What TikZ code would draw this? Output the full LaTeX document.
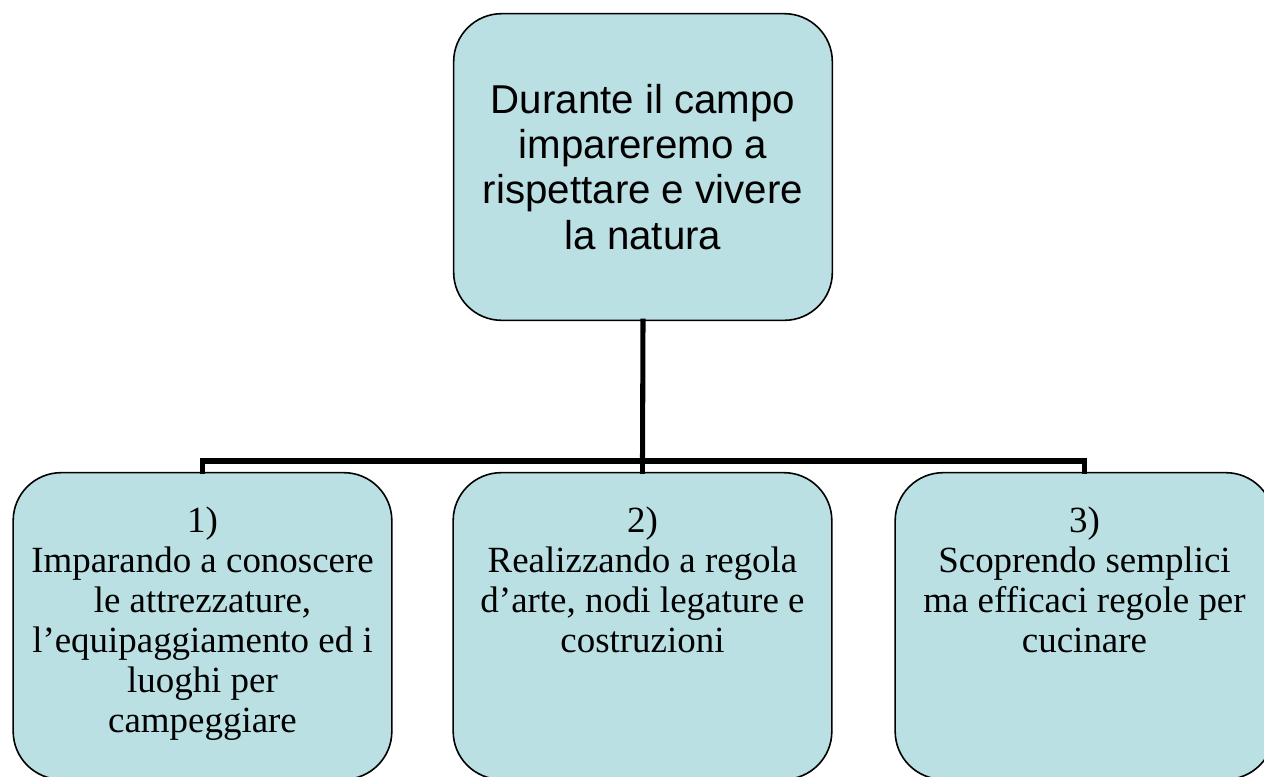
\documentclass[tikz,border=0pt]{standalone}
\usepackage{fontspec}
\setmainfont{Liberation Serif}
\newfontfamily\arialfont{Liberation Sans}
\usetikzlibrary{calc}

\definecolor{boxfill}{RGB}{187,224,227}

\tikzset{every picture/.style={line width=0.75pt}}
\tikzset{
  rbox/.style={draw=black, fill=boxfill, line width=1.2pt, rounded corners=36pt,
    minimum width=284pt, minimum height=230pt, inner sep=0pt},
  leaftext/.style={anchor=north, align=center, inner sep=0pt,
    font=\fontsize{27.7}{30}\selectfont},
  link/.style={line width=3.8pt, line join=miter, line cap=rect}
}

\begin{document}
\begin{tikzpicture}[x=0.75pt,y=0.75pt,yscale=-1,xscale=1]
	\useasboundingbox (0,0) rectangle (1264,776);
	
	%Shape: Rounded Rect [id:top]
	\node [rbox, align=center, font=\arialfont\fontsize{30.2}{33.8}\selectfont] (camp) at (643,167)
	  {Durante il campo\\impareremo a\\rispettare e vivere\\la natura};
	%Shape: Rounded Rect [id:leaf1]
	\node [rbox] (uno) at (202.5,626) {};
	%Shape: Rounded Rect [id:leaf2]
	\node [rbox] (due) at (642.5,626) {};
	%Shape: Rounded Rect [id:leaf3]
	\node [rbox] (tre) at (1084.5,626) {};
	
	%Straight Lines [id:hub]
	\coordinate (hub) at (642.5,461);
	\draw [link] (camp.south) -- (hub);
	\draw [link] (uno.north) |- (hub) -| (tre.north);
	\draw [link] (hub) -- (due.north);
	
	% Text Node
	\node [leaftext] (unotext) at ($(uno.north)+(0,34)$)
	  {1)\\Imparando a conoscere\\le attrezzature,\\l’equipaggiamento ed i\\luoghi per\\campeggiare};
	% Text Node
	\node [leaftext] (duetext) at ($(due.north)+(0,34)$)
	  {2)\\Realizzando a regola\\d’arte, nodi legature e\\costruzioni};
	% Text Node
	\node [leaftext] (tretext) at ($(tre.north)+(0,34)$)
	  {3)\\Scoprendo semplici\\ma efficaci regole per\\cucinare};
	
\end{tikzpicture}
\end{document}
